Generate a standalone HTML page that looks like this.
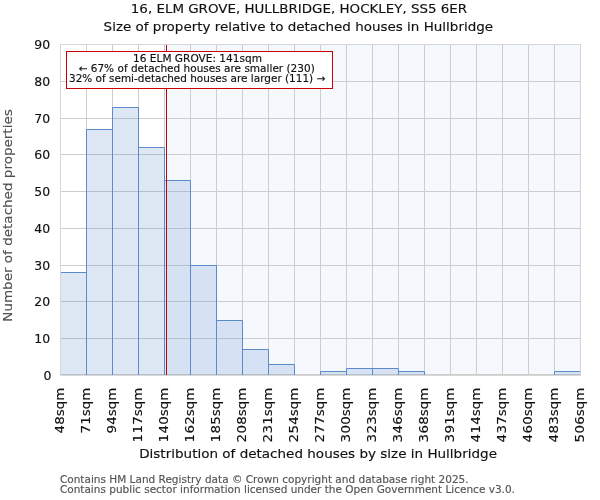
<!DOCTYPE html>
<html lang="en"><head><meta charset="utf-8"><title>16, ELM GROVE, HULLBRIDGE, HOCKLEY, SS5 6ER</title>
<style>html,body{margin:0;padding:0;background:#fff}body{width:600px;height:500px;overflow:hidden}svg{display:block}text{font-family:"DejaVu Sans","Liberation Sans",sans-serif;stroke-width:0.15px}</style></head><body>
<svg width="600" height="500" viewBox="0 0 600 500">
<rect width="600" height="500" fill="#fff"/>
<rect x="166.5" y="44.5" width="414.0" height="331.0" fill="#f5f8fd"/>
<g stroke="#cdcdcd" stroke-width="1" fill="none">
<line x1="60.50" y1="44.5" x2="60.50" y2="375.5"/>
<line x1="86.50" y1="44.5" x2="86.50" y2="375.5"/>
<line x1="112.50" y1="44.5" x2="112.50" y2="375.5"/>
<line x1="138.50" y1="44.5" x2="138.50" y2="375.5"/>
<line x1="164.50" y1="44.5" x2="164.50" y2="375.5"/>
<line x1="190.50" y1="44.5" x2="190.50" y2="375.5"/>
<line x1="216.50" y1="44.5" x2="216.50" y2="375.5"/>
<line x1="242.50" y1="44.5" x2="242.50" y2="375.5"/>
<line x1="268.50" y1="44.5" x2="268.50" y2="375.5"/>
<line x1="294.50" y1="44.5" x2="294.50" y2="375.5"/>
<line x1="320.50" y1="44.5" x2="320.50" y2="375.5"/>
<line x1="346.50" y1="44.5" x2="346.50" y2="375.5"/>
<line x1="372.50" y1="44.5" x2="372.50" y2="375.5"/>
<line x1="398.50" y1="44.5" x2="398.50" y2="375.5"/>
<line x1="424.50" y1="44.5" x2="424.50" y2="375.5"/>
<line x1="450.50" y1="44.5" x2="450.50" y2="375.5"/>
<line x1="476.50" y1="44.5" x2="476.50" y2="375.5"/>
<line x1="502.50" y1="44.5" x2="502.50" y2="375.5"/>
<line x1="528.50" y1="44.5" x2="528.50" y2="375.5"/>
<line x1="554.50" y1="44.5" x2="554.50" y2="375.5"/>
<line x1="580.50" y1="44.5" x2="580.50" y2="375.5"/>
<line x1="60.0" y1="374.50" x2="581.0" y2="374.50"/>
<line x1="60.0" y1="338.50" x2="581.0" y2="338.50"/>
<line x1="60.0" y1="301.50" x2="581.0" y2="301.50"/>
<line x1="60.0" y1="265.50" x2="581.0" y2="265.50"/>
<line x1="60.0" y1="228.50" x2="581.0" y2="228.50"/>
<line x1="60.0" y1="191.50" x2="581.0" y2="191.50"/>
<line x1="60.0" y1="154.50" x2="581.0" y2="154.50"/>
<line x1="60.0" y1="118.50" x2="581.0" y2="118.50"/>
<line x1="60.0" y1="81.50" x2="581.0" y2="81.50"/>
<line x1="60.0" y1="44.50" x2="581.0" y2="44.50"/>
</g>
<clipPath id="ax"><rect x="60" y="44" width="521" height="331"/></clipPath>
<g clip-path="url(#ax)"><g fill="#5b8acd" fill-opacity="0.2" stroke="#5b8acd" stroke-width="1">
<path d="M60.5 376V272.5H86.5V376"/>
<path d="M86.5 376V129.5H112.5V376"/>
<path d="M112.5 376V107.5H138.5V376"/>
<path d="M138.5 376V147.5H164.5V376"/>
<path d="M164.5 376V180.5H190.5V376"/>
<path d="M190.5 376V265.5H216.5V376"/>
<path d="M216.5 376V320.5H242.5V376"/>
<path d="M242.5 376V349.5H268.5V376"/>
<path d="M268.5 376V364.5H294.5V376"/>
<path d="M320.5 376V371.5H346.5V376"/>
<path d="M346.5 376V368.5H372.5V376"/>
<path d="M372.5 376V368.5H398.5V376"/>
<path d="M398.5 376V371.5H424.5V376"/>
<path d="M554.5 376V371.5H580.5V376"/>
</g></g>
<line x1="166.5" y1="44.0" x2="166.5" y2="375.0" stroke="#c80000" stroke-width="1"/>
<path d="M60.5 44V376M580.5 44V376M60 44.5H581" stroke="#d6d6d6" stroke-width="1" fill="none"/>
<path d="M60 375.5H581" stroke="#d8d8d8" stroke-width="1" fill="none"/>
<text x="43.50" y="380.10" font-size="12.4" fill="#111" stroke="#111" textLength="7.93" lengthAdjust="spacingAndGlyphs">0</text>
<text x="34.37" y="343.10" font-size="12.4" fill="#111" stroke="#111" textLength="15.86" lengthAdjust="spacingAndGlyphs">10</text>
<text x="34.37" y="306.10" font-size="12.4" fill="#111" stroke="#111" textLength="15.86" lengthAdjust="spacingAndGlyphs">20</text>
<text x="34.37" y="270.10" font-size="12.4" fill="#111" stroke="#111" textLength="15.86" lengthAdjust="spacingAndGlyphs">30</text>
<text x="34.37" y="233.10" font-size="12.4" fill="#111" stroke="#111" textLength="15.86" lengthAdjust="spacingAndGlyphs">40</text>
<text x="34.37" y="196.10" font-size="12.4" fill="#111" stroke="#111" textLength="15.86" lengthAdjust="spacingAndGlyphs">50</text>
<text x="34.37" y="159.10" font-size="12.4" fill="#111" stroke="#111" textLength="15.86" lengthAdjust="spacingAndGlyphs">60</text>
<text x="34.37" y="123.10" font-size="12.4" fill="#111" stroke="#111" textLength="15.86" lengthAdjust="spacingAndGlyphs">70</text>
<text x="34.37" y="86.10" font-size="12.4" fill="#111" stroke="#111" textLength="15.86" lengthAdjust="spacingAndGlyphs">80</text>
<text x="34.37" y="49.10" font-size="12.4" fill="#111" stroke="#111" textLength="15.86" lengthAdjust="spacingAndGlyphs">90</text>
<text transform="translate(64.00,433.58) rotate(-90) scale(1.0806,1)" font-size="12.4" fill="#111" stroke="#111"><tspan letter-spacing="0.389">4</tspan>8sqm</text>
<text transform="translate(90.00,433.58) rotate(-90) scale(1.0806,1)" font-size="12.4" fill="#111" stroke="#111"><tspan letter-spacing="0.389">7</tspan>1sqm</text>
<text transform="translate(116.00,433.58) rotate(-90) scale(1.0806,1)" font-size="12.4" fill="#111" stroke="#111"><tspan letter-spacing="0.389">9</tspan>4sqm</text>
<text transform="translate(142.00,442.52) rotate(-90) scale(1.0806,1)" font-size="12.4" fill="#111" stroke="#111"><tspan letter-spacing="0.389">11</tspan>7sqm</text>
<text transform="translate(168.00,442.52) rotate(-90) scale(1.0806,1)" font-size="12.4" fill="#111" stroke="#111"><tspan letter-spacing="0.389">14</tspan>0sqm</text>
<text transform="translate(194.00,442.52) rotate(-90) scale(1.0806,1)" font-size="12.4" fill="#111" stroke="#111"><tspan letter-spacing="0.389">16</tspan>2sqm</text>
<text transform="translate(220.00,442.52) rotate(-90) scale(1.0806,1)" font-size="12.4" fill="#111" stroke="#111"><tspan letter-spacing="0.389">18</tspan>5sqm</text>
<text transform="translate(246.00,442.52) rotate(-90) scale(1.0806,1)" font-size="12.4" fill="#111" stroke="#111"><tspan letter-spacing="0.389">20</tspan>8sqm</text>
<text transform="translate(272.00,442.52) rotate(-90) scale(1.0806,1)" font-size="12.4" fill="#111" stroke="#111"><tspan letter-spacing="0.389">23</tspan>1sqm</text>
<text transform="translate(298.00,442.52) rotate(-90) scale(1.0806,1)" font-size="12.4" fill="#111" stroke="#111"><tspan letter-spacing="0.389">25</tspan>4sqm</text>
<text transform="translate(324.00,442.52) rotate(-90) scale(1.0806,1)" font-size="12.4" fill="#111" stroke="#111"><tspan letter-spacing="0.389">27</tspan>7sqm</text>
<text transform="translate(350.00,442.52) rotate(-90) scale(1.0806,1)" font-size="12.4" fill="#111" stroke="#111"><tspan letter-spacing="0.389">30</tspan>0sqm</text>
<text transform="translate(376.00,442.52) rotate(-90) scale(1.0806,1)" font-size="12.4" fill="#111" stroke="#111"><tspan letter-spacing="0.389">32</tspan>3sqm</text>
<text transform="translate(402.00,442.52) rotate(-90) scale(1.0806,1)" font-size="12.4" fill="#111" stroke="#111"><tspan letter-spacing="0.389">34</tspan>6sqm</text>
<text transform="translate(428.00,442.52) rotate(-90) scale(1.0806,1)" font-size="12.4" fill="#111" stroke="#111"><tspan letter-spacing="0.389">36</tspan>8sqm</text>
<text transform="translate(454.00,442.52) rotate(-90) scale(1.0806,1)" font-size="12.4" fill="#111" stroke="#111"><tspan letter-spacing="0.389">39</tspan>1sqm</text>
<text transform="translate(480.00,442.52) rotate(-90) scale(1.0806,1)" font-size="12.4" fill="#111" stroke="#111"><tspan letter-spacing="0.389">41</tspan>4sqm</text>
<text transform="translate(506.00,442.52) rotate(-90) scale(1.0806,1)" font-size="12.4" fill="#111" stroke="#111"><tspan letter-spacing="0.389">43</tspan>7sqm</text>
<text transform="translate(532.00,442.52) rotate(-90) scale(1.0806,1)" font-size="12.4" fill="#111" stroke="#111"><tspan letter-spacing="0.389">46</tspan>0sqm</text>
<text transform="translate(558.00,442.52) rotate(-90) scale(1.0806,1)" font-size="12.4" fill="#111" stroke="#111"><tspan letter-spacing="0.389">48</tspan>3sqm</text>
<text transform="translate(584.00,442.52) rotate(-90) scale(1.0806,1)" font-size="12.4" fill="#111" stroke="#111"><tspan letter-spacing="0.389">50</tspan>6sqm</text>
<text x="130.84" y="12.60" font-size="12.4" fill="#111" stroke="#111" textLength="336.34" lengthAdjust="spacingAndGlyphs">16, ELM GROVE, HULLBRIDGE, HOCKLEY, SS5 6ER</text>
<text x="103.62" y="30.60" font-size="12.8" fill="#111" stroke="#111" textLength="389.48" lengthAdjust="spacingAndGlyphs">Size of property relative to detached houses in Hullbridge</text>
<text x="139.18" y="458.00" font-size="12.8" fill="#111" stroke="#111" textLength="357.83" lengthAdjust="spacingAndGlyphs">Distribution of detached houses by size in Hullbridge</text>
<text transform="translate(11.90,321.72) rotate(-90)" font-size="12.8" fill="#505050" stroke="#505050" textLength="212.47" lengthAdjust="spacingAndGlyphs">Number of detached properties</text>
<rect x="66.5" y="51.5" width="266" height="37" fill="#fff" stroke="#cc0000" stroke-width="1"/>
<text x="133.05" y="62.00" font-size="9.9" fill="#111" stroke="#111" textLength="128.94" lengthAdjust="spacingAndGlyphs">16 ELM GROVE: 141sqm</text>
<text x="78.60" y="71.60" font-size="9.9" fill="#111" stroke="#111" textLength="236.20" lengthAdjust="spacingAndGlyphs">← 67% of detached houses are smaller (230)</text>
<text x="69.00" y="81.60" font-size="9.9" fill="#111" stroke="#111" textLength="256.30" lengthAdjust="spacingAndGlyphs">32% of semi-detached houses are larger (111) →</text>
<text x="59.91" y="483.10" font-size="9.8" fill="#555" stroke="#555" textLength="408.73" lengthAdjust="spacingAndGlyphs">Contains HM Land Registry data © Crown copyright and database right 2025.</text>
<text x="59.91" y="492.60" font-size="9.8" fill="#555" stroke="#555" textLength="455.02" lengthAdjust="spacingAndGlyphs">Contains public sector information licensed under the Open Government Licence v3.0.</text>
</svg></body></html>
